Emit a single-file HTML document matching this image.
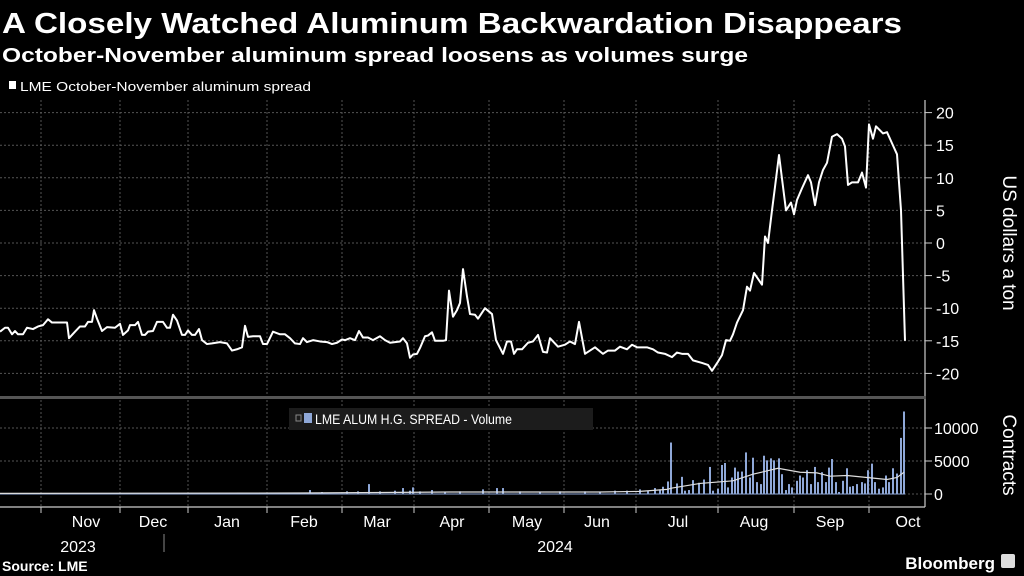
<!DOCTYPE html>
<html><head><meta charset="utf-8"><style>
html,body{margin:0;padding:0;background:#000;}
svg{display:block;font-family:"Liberation Sans",sans-serif;}
</style></head><body>
<svg id="chart" width="1024" height="576" viewBox="0 0 1024 576" xmlns="http://www.w3.org/2000/svg">
<rect width="1024" height="576" fill="#000"/>
<text x="2" y="33" fill="#fff" font-size="29" font-weight="bold" textLength="900" lengthAdjust="spacingAndGlyphs">A Closely Watched Aluminum Backwardation Disappears</text>
<text x="2" y="62" fill="#fff" font-size="20" font-weight="bold" textLength="746" lengthAdjust="spacingAndGlyphs">October-November aluminum spread loosens as volumes surge</text>
<rect x="9" y="81" width="7" height="8" fill="#fff"/>
<text x="20" y="91" fill="#fff" font-size="13" textLength="291" lengthAdjust="spacingAndGlyphs">LME October-November aluminum spread</text>
<g id="grid"></g>
<g id="vol"></g>
<g id="lines"></g>
<g id="axes"></g>
<rect x="0" y="396" width="926" height="3" fill="#555"/>
<rect x="289" y="408" width="304" height="22" fill="#1c1c1c"/>
<rect x="296" y="415" width="5" height="6" fill="none" stroke="#888" stroke-width="1"/>
<rect x="304" y="413" width="8" height="10" fill="#8fa8d8"/>
<text x="315" y="424" fill="#fff" font-size="14" textLength="197" lengthAdjust="spacingAndGlyphs">LME ALUM H.G. SPREAD - Volume</text>
<text transform="translate(1003,243) rotate(90)" text-anchor="middle" fill="#fff" font-size="19">US dollars a ton</text>
<text transform="translate(1003,455) rotate(90)" text-anchor="middle" fill="#fff" font-size="19">Contracts</text>
<text x="78" y="552" fill="#fff" font-size="16" text-anchor="middle">2023</text>
<line x1="164" y1="534" x2="164" y2="552" stroke="#888" stroke-width="1"/>
<text x="555" y="552" fill="#fff" font-size="16" text-anchor="middle">2024</text>
<text x="2" y="571" fill="#fff" font-size="14" font-weight="bold">Source: LME</text>
<text x="995" y="569" fill="#fff" font-size="17" font-weight="bold" text-anchor="end">Bloomberg</text>
<rect x="1001" y="554" width="14" height="14" rx="2" fill="#ddd"/>
</svg>
<script>
const days = [0,2,3.2,4.8,6,7.2,9.2,10.8,13.2,15.2,
17.2,19.2,20.8,26.8,27.6,30,32,34,35.2,36.8,
37.6,38.8,40.8,42.8,46,48,49.2,51.2,52,54,
55.2,56.8,58,59.2,61.2,62.8,65.2,66.8,68,69.2,
70.8,72.8,74,75.2,76.8,78,79.6,80.8,82.8,84.8,
88,90.8,92.8,94.8,96.8,98,99.2,101.2,104,105.2,
106.8,109.2,112,114,116,118,120,121.2,122.8,125.2,
128,130.8,132.8,134.8,136.8,138,140,142,143.6,145.2,
147.2,149.2,152,154,156,160,161.2,162.8,164,165.2,
166.8,168,170,171.2,172.8,174,177.2,178.4,179.6,181.2,
182.8,184,185.2,186.8,188,190,191.2,194,196.8,198.4,
200,201.2,202.8,204.4,205.6,206.8,208.8,211.2,213.2,215.2,
217.2,218.8,220,223.2,226,228,230,231.6,234,238,
241.2,243.2,246,248,250.8,252.8,254.8,258.8,261.2,263.2,
266,268.8,270.8,272.8,275.2,277.2,280.8,283.2,284.8,287.2,
288.8,290.4,292,293.2,294.8,297.2,298.8,300,301.6,304.8,
306,307.2,308.8,310,311.6,314.4,316.4,317.6,318.8,320.8,323.2,324.4,
326,327.6,329.2,330.8,332.8,334.8,336.8,338,339.2,340.8,
343.2,344.8,346.4,347.6,349.2,350.4,353.2,354.8,356.8,358.8,
360.4,362];
const spread = [-13.6,-13,-13,-14,-13.5,-14,-14,-13,-13.2,-12.8,
-12.6,-11.7,-12.2,-12.2,-14.6,-13.6,-12.8,-12.8,-12.1,-12.1,
-10.3,-11.6,-13.5,-12.9,-13,-12.4,-14.1,-13.4,-12.6,-12.6,
-12.1,-14.1,-14.1,-13.6,-13.5,-12.1,-12.1,-13,-13,-11,
-11.9,-14.1,-14.1,-13.4,-14.1,-14.1,-13.2,-14.9,-15.5,-15.4,
-15.2,-15.4,-16.5,-16.3,-16,-12.7,-14.4,-14.3,-14.3,-15.5,
-15.5,-13.6,-14,-14,-14.6,-15.4,-15.5,-14.6,-15.2,-14.9,
-15.1,-15.2,-15.5,-15.3,-14.8,-14.9,-14.6,-14.9,-13.5,-14.5,
-14.5,-14.9,-14.3,-14.9,-15.3,-15.1,-14.6,-15.4,-17.6,-17.1,
-17,-16.1,-14.3,-14.2,-13.7,-15,-15,-14.9,-7.3,-11.3,
-10.3,-9.2,-4,-8.2,-10.9,-11,-11.6,-10,-10.9,-14.9,
-16.1,-17,-15.1,-15.1,-17,-16.3,-16.3,-15.3,-15.1,-14.1,
-16.7,-16.8,-14.6,-15.9,-15.6,-15.1,-15.5,-12.1,-17,-16,
-17,-16.5,-16.5,-15.9,-16.3,-15.6,-16,-16,-16.3,-16.8,
-17,-17.5,-16.8,-17,-17,-18,-18.4,-18.7,-19.6,-18.2,
-17.2,-14.9,-15,-14,-12.2,-10.3,-6.7,-7.3,-4.6,-6.4,
1,0,5,8.6,13.5,5,6.2,4.4,6.6,8.4,10.4,9.3,
5.8,9.3,11.2,12.3,16.3,16.7,16,14.8,8.9,9.3,
9.3,10.8,8.5,18.2,16,17.9,16.8,17,15.3,13.6,
5,-15];
const volDays = [124,128.8,138.8,143.2,147.6,152,158,161.2,164,165.2,168,172.8,178,184,193.2,198.8,201.2,208,216,224,234,240,246,250.8,256,259.2,262,264,
265.2,267.2,268.4,270.8,272.8,274,275.6,277.2,279.6,281.6,
284,285.2,287.2,288.8,290,291.2,292.8,294,295.2,296.8,
298.4,300,301.2,302.8,304.4,305.6,306.8,308.4,309.6,311.6,
312.8,314.4,315.6,316.8,318.8,320,321.2,322.8,324.4,326,
327.2,328.8,330.4,331.6,332.8,334.4,335.6,337.2,338.8,340,
341.2,342.8,344.8,346,347.2,348.8,350,351.6,353.2,354.4,
355.6,357.2,358.8,360.4,361.6];
const volumes = [600,300,400,400,1500,400,500,900,500,1000,400,600,300,400,700,900,900,400,300,400,400,350,500,500,700,500,900,700,
1100,1900,7800,1600,2600,500,600,2100,1700,2200,
4100,500,800,4400,4700,1000,2500,4000,3400,3400,
6300,2500,5500,1800,1500,5800,5100,5400,5100,5400,
3000,600,1500,1000,2000,2800,2500,3600,1500,4100,
1800,3300,1800,4000,5300,1800,300,2000,3900,1100,
1200,1500,1800,1600,3600,4600,1800,800,1000,2800,
1800,3900,3100,8500,12500];
const maDays = [0,120,180,224,240,256,266.8,268.8,280,293.2,301.2,311.2,320,326.8,332,338.8,346.8,354.8,358.8,361.6];
const maValues = [100,150,300,300,300,400,700,900,1600,2000,3000,3900,3300,3200,2700,2800,2500,2200,2500,3300];
const monthLabels = ["Nov","Dec","Jan","Feb","Mar","Apr","May","Jun","Jul","Aug","Sep","Oct"];
const monthStarts = [16.4,48,75.2,106.8,136.8,165.6,195.6,225.6,254.4,287.2,317.6,347.6];
const monthMids = [34.4,61.2,90.8,121.6,150.8,180.8,210.8,238.8,271.2,301.6,332,363.2];
const spreadTicks = [20,15,10,5,0,-5,-10,-15,-20];
const volTicks = [10000,5000,0];

const NS="http://www.w3.org/2000/svg";
function xScale(d){return d*2.5;}
function yScale(v){return 243 - v*6.52;}
function vScale(v){return 494 - v*0.0066;}
function mk(tag, attrs, parent){const e=document.createElementNS(NS,tag);for(const k in attrs)e.setAttribute(k,attrs[k]);parent.appendChild(e);return e;}
const grid=document.getElementById('grid'), axes=document.getElementById('axes'), vol=document.getElementById('vol'), lines=document.getElementById('lines');

monthStarts.forEach(d=>{
  const l=mk('line',{x1:xScale(d),x2:xScale(d),y1:100,y2:507,stroke:'#555','stroke-dasharray':'2,2','stroke-width':1},grid);
  
  
  const t=mk('line',{x1:xScale(d),x2:xScale(d),y1:507,y2:513,stroke:'#ccc','stroke-width':1},axes);
  
  
});
monthLabels.forEach((m,i)=>{
  const t=mk('text',{x:xScale(monthMids[i]),y:527,fill:'#fff','font-size':16,'text-anchor':'middle'},axes);
  t.textContent=m;
  
  
});
spreadTicks.forEach(v=>{
  const y=yScale(v);
  const g=mk('line',{x1:0,x2:925,y1:y,y2:y,stroke:'#555','stroke-dasharray':'2,2','stroke-width':1},grid);
  
  
  const t=mk('line',{x1:925,x2:932,y1:y,y2:y,stroke:'#ccc','stroke-width':1},axes);
  
  
  const tx=mk('text',{x:936,y:y+6,fill:'#fff','font-size':16},axes);
  tx.textContent=String(v);
  
  
});
volTicks.forEach(v=>{
  const y=vScale(v);
  const g=mk('line',{x1:0,x2:925,y1:y,y2:y,stroke:'#555','stroke-dasharray':'2,2','stroke-width':1},grid);
  
  
  const t=mk('line',{x1:925,x2:932,y1:y,y2:y,stroke:'#ccc','stroke-width':1},axes);
  
  
  const tx=mk('text',{x:934,y:y+6,fill:'#fff','font-size':16},axes);
  tx.textContent=String(v);
  
  
});
const ax=mk('line',{x1:925,x2:925,y1:100,y2:507,stroke:'#ccc','stroke-width':1.2},axes);


const bx=mk('line',{x1:0,x2:925,y1:507,y2:507,stroke:'#ccc','stroke-width':1.2},axes);



volumes.forEach((v,i)=>{
  const x=xScale(volDays[i]), y=vScale(v);
  const r=mk('rect',{x:x-1,y:y,width:2,height:494-y,fill:'#8fa8d8'},vol);
  
  
});
const base=mk('line',{x1:0,x2:xScale(362),y1:494,y2:494,stroke:'#8fa8d8','stroke-width':1},vol);



const ma=mk('polyline',{points:maDays.map((d,i)=>xScale(d)+','+vScale(maValues[i])).join(' '),fill:'none',stroke:'#ddd','stroke-width':1.2},lines);



const n=Math.min(days.length,spread.length);
const pts=[];for(let i=0;i<n;i++)pts.push(xScale(days[i])+','+yScale(spread[i]));
const sp=mk('polyline',{points:pts.join(' '),fill:'none',stroke:'#fff','stroke-width':2,'stroke-linejoin':'round'},lines);


</script>
</body></html>
